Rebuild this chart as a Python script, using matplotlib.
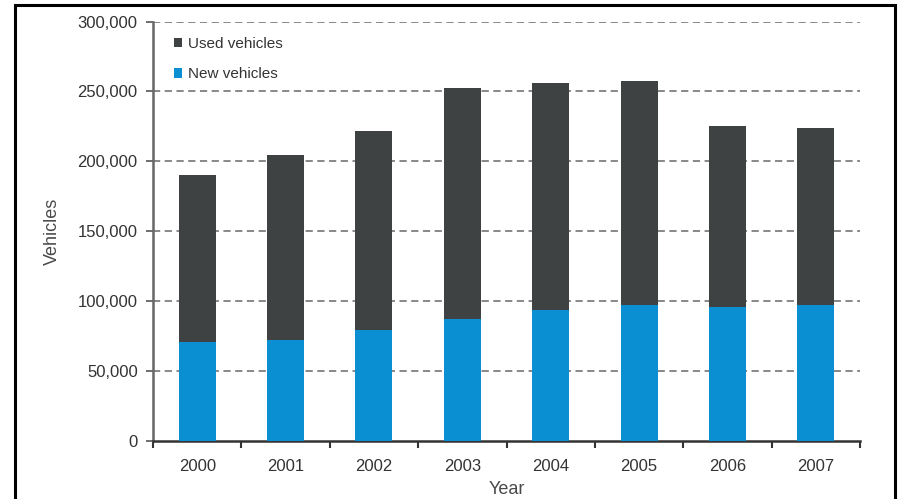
import matplotlib.pyplot as plt
from matplotlib.patches import Rectangle
from matplotlib.ticker import FuncFormatter
import numpy as np

years = ['2000', '2001', '2002', '2003', '2004', '2005', '2006', '2007']
new_vehicles = [70500, 72000, 79500, 87500, 93500, 97000, 96000, 97000]
total_vehicles = [190500, 204500, 221500, 252500, 256000, 257500, 225000, 223500]
used_vehicles = [t - n for t, n in zip(total_vehicles, new_vehicles)]

plt.rcParams['font.family'] = ['Liberation Sans', 'DejaVu Sans']
txt_col = '#333333'

fig = plt.figure(figsize=(8.99, 4.99), dpi=100)
ax = fig.add_axes([153/899, 1-441/499, 707/899, 419.5/499])

x = np.arange(len(years))
w = 0.42
b_new = ax.bar(x, new_vehicles, width=w, color='#0a8fd2', zorder=3)
b_used = ax.bar(x, used_vehicles, width=w, bottom=new_vehicles, color='#3f4243', zorder=3)

ax.set_ylim(0, 300000)
ax.set_xlim(-0.5, len(years) - 0.5)
ax.set_yticks(np.arange(0, 300001, 50000))
ax.yaxis.set_major_formatter(FuncFormatter(lambda v, p: '{:,.0f}'.format(v)))

# ticks at category boundaries, labels at centres
ax.set_xticks(np.arange(-0.5, len(years), 1.0))
ax.set_xticklabels([])
ax.set_xticks(x, minor=True)
ax.set_xticklabels(years, minor=True)
ax.tick_params(axis='x', which='major', direction='out', length=5, width=1.5, color='#333333')
ax.tick_params(axis='x', which='minor', length=0, pad=13, labelsize=12, labelcolor=txt_col)
ax.tick_params(axis='y', direction='out', length=5, width=1.2, color='#555555',
               labelsize=12, labelcolor=txt_col, pad=6)

for yv in range(50000, 300001, 50000):
    ax.axhline(yv, color='#7f7f7f', linestyle=(0, (4, 2.5)), linewidth=1.3, zorder=1)

for s in ['top', 'right']:
    ax.spines[s].set_visible(False)
ax.spines['left'].set_color('#666666')
ax.spines['left'].set_linewidth(1.8)
ax.spines['bottom'].set_color('#333333')
ax.spines['bottom'].set_linewidth(1.8)

ax.set_xlabel('Year', fontsize=13, color='#4a4a4a', labelpad=5)
ax.set_ylabel('Vehicles', fontsize=13, color='#4a4a4a', labelpad=12)

leg = ax.legend([b_used, b_new], ['Used vehicles', 'New vehicles'],
                loc='upper left', bbox_to_anchor=(166/899, 1-29/499),
                bbox_transform=fig.transFigure, frameon=False,
                handlelength=0.55, handleheight=0.55, handletextpad=0.4,
                labelspacing=1.1, borderpad=0, fontsize=11)
for t in leg.get_texts():
    t.set_color(txt_col)

fig.patches.append(Rectangle((15/899, -0.05), 880/899, 1.05 - 5/499,
                             transform=fig.transFigure, fill=False,
                             edgecolor='black', linewidth=2.2))

fig.savefig('out.png', dpi=100)
plt.close(fig)
